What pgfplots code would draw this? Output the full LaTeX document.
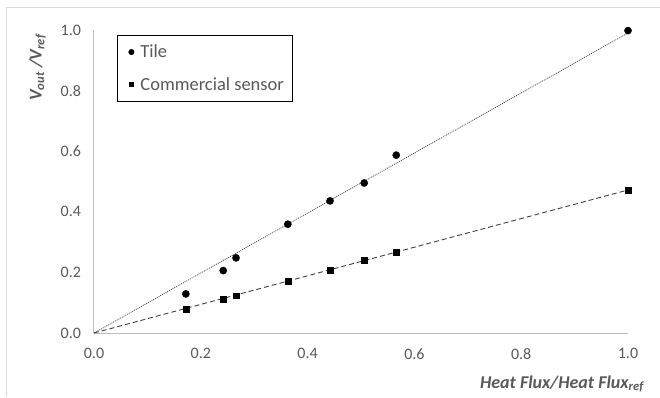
\documentclass[border=0pt]{standalone}
\usepackage{pgfplots}
\pgfplotsset{compat=1.18}
\usepackage{fontspec}
\setmainfont{Carlito}
\definecolor{tickgray}{HTML}{595959}
\definecolor{axgray}{HTML}{BFBFBF}
\definecolor{framegray}{HTML}{D9D9D9}
\definecolor{legtext}{HTML}{595959}
\definecolor{linegray}{HTML}{404040}
\begin{document}
\begin{tikzpicture}
\path[use as bounding box] (-94pt,-64pt) rectangle (566pt,333pt);
\draw[framegray, line width=1pt] (-87pt,-64pt) -- (-87pt,325pt) -- (566pt,325pt);
\begin{axis}[
  at={(0pt,0pt)}, anchor=south west,
  scale only axis, width=534pt, height=303pt,
  xmin=0, xmax=1, ymin=0, ymax=1,
  axis x line=bottom, axis y line=left,
  axis line style={-, axgray, line width=1pt},
  major tick length=0pt,
  xtick={0,0.2,0.4,0.6,0.8,1.0},
  ytick={0,0.2,0.4,0.6,0.8,1.0},
  /pgf/number format/assume math mode=true,
  /pgf/number format/fixed, /pgf/number format/fixed zerofill, /pgf/number format/precision=1,
  tick label style={font=\fontsize{16}{19}\selectfont, text=tickgray},
  x tick label style={yshift=-12pt},
  y tick label style={xshift=-9.5pt},
  clip=false,
  xlabel={\textbf{\textit{Heat Flux/Heat Flux\textsubscript{ref}}}},
  xlabel style={at={(rel axis cs:1.03,-0.1815)}, anchor=base east, inner sep=0pt, font=\fontsize{18}{21}\selectfont, text=tickgray},
  ylabel={\textbf{\textit{V\textsubscript{out} /V\textsubscript{ref}}}},
  ylabel style={at={(rel axis cs:-0.1058,0.876)}, anchor=center, rotate=0, inner sep=0pt, font=\fontsize{18}{21}\selectfont, text=tickgray},
  legend style={at={(0.0431,0.9835)}, anchor=north west, draw=black, line width=0.75pt,
    font=\fontsize{18.5}{21}\selectfont, text=legtext, inner xsep=6pt, inner ysep=7.5pt,
    row sep=14pt, column sep=3pt, nodes={inner sep=2pt}},
  legend cell align=left,
  legend image code/.code={\path[draw=none] (0pt,0pt) -- (12pt,0pt); \draw[#1] plot coordinates {(8pt,0pt)};},
]
\addplot[forget plot, linegray, line width=0.75pt, dash pattern=on 1pt off 1pt] coordinates {(0,0) (1,0.99)};
\addplot[forget plot, linegray, line width=0.9pt, dash pattern=on 5pt off 3pt] coordinates {(0,0) (1,0.472)};
\addplot[only marks, mark=*, mark size=3.6pt, black, legend image post style={mark size=2.6pt}] coordinates {
(0.172,0.129) (0.242,0.206) (0.266,0.248) (0.363,0.359) (0.442,0.436) (0.506,0.495) (0.566,0.587) (1.0,0.998)};
\addlegendentry{Tile}
\addplot[only marks, mark=square*, mark size=2.9pt, black, legend image post style={mark size=2pt}] coordinates {
(0.172,0.079) (0.242,0.112) (0.266,0.123) (0.363,0.171) (0.442,0.208) (0.506,0.239) (0.566,0.266) (1.0,0.472)};
\addlegendentry{Commercial sensor}
\end{axis}
\end{tikzpicture}
\end{document}
